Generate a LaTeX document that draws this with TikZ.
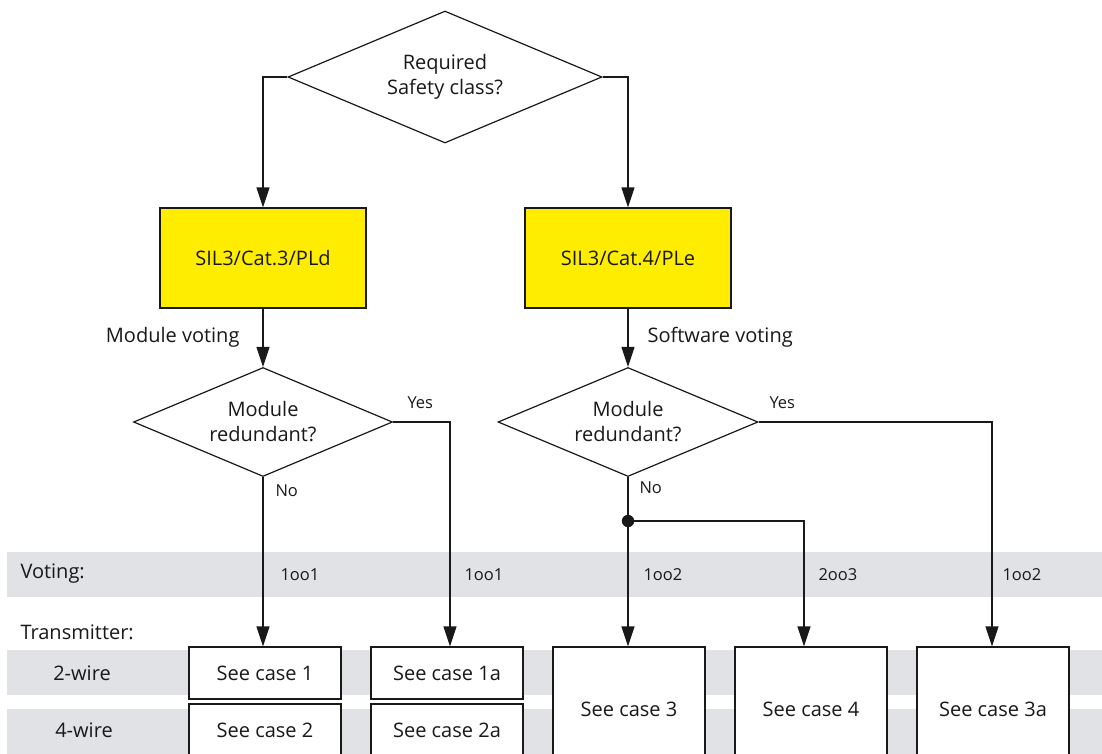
\documentclass[tikz,border=0pt]{standalone}
\usepackage{fontspec}
\setmainfont{Open Sans}
\usetikzlibrary{shapes.geometric,arrows.meta}
\definecolor{sieyellow}{RGB}{255,237,0}
\definecolor{bandgray}{RGB}{225,226,229}
\definecolor{txt}{RGB}{25,25,25}
\tikzset{
  big/.style={font=\fontsize{20}{25}\selectfont, text=txt},
  small/.style={font=\fontsize{16.5}{19}\selectfont, text=txt},
  dec/.style={shape=diamond, draw=txt, line width=1.2pt, fill=white, inner sep=0pt, aspect=2.38, align=center, big},
  classbox/.style={draw=txt, line width=1.2pt, fill=sieyellow, minimum width=206pt, minimum height=100pt, inner sep=0pt, big},
  casebox/.style={draw=txt, line width=1.2pt, fill=white, minimum width=152pt, inner sep=0pt, big},
  arr/.style={draw=txt, line width=1.2pt, -{Triangle[width=13pt,length=20pt]}},
  band/.style={fill=bandgray, draw=none}
}
\begin{document}
\begin{tikzpicture}[x=1pt,y=-1pt]
\useasboundingbox (0,0) rectangle (1102,753);
% bands
\fill[band] (7,552) rectangle (1102,597);
\fill[band] (7,650) rectangle (1102,695);
\fill[band] (7,709) rectangle (1102,760);
\node[big, anchor=west] (lvot) at (17,574) {Voting:};
\node[big, anchor=west] (ltra) at (17,632) {Transmitter:};
\node[big] (l2w) at (82,673) {2-wire};
\node[big] (l4w) at (84,730) {4-wire};
% decisions
\node[dec, minimum width=314pt, minimum height=132pt] (top) at (445,77) {Required\\Safety class?};
\node[classbox] (b1) at (263,258) {SIL3/Cat.3/PLd};
\node[classbox] (b2) at (628,258) {SIL3/Cat.4/PLe};
\node[dec, minimum width=259pt, minimum height=109pt] (d1) at (263,422) {Module\\redundant?};
\node[dec, minimum width=260pt, minimum height=109pt] (d2) at (628,422) {Module\\redundant?};
% case boxes
\node[casebox, minimum height=52pt] (c1) at (265,673) {See case 1};
\node[casebox, minimum height=52pt] (c2) at (265,730) {See case 2};
\node[casebox, minimum height=52pt] (c1a) at (447,673) {See case 1a};
\node[casebox, minimum height=52pt] (c2a) at (447,730) {See case 2a};
\node[casebox, minimum height=124pt] (c3) at (629,709) {See case 3};
\node[casebox, minimum height=124pt] (c4) at (811,709) {See case 4};
\node[casebox, minimum height=124pt] (c3a) at (993,709) {See case 3a};
% connectors
\draw[arr] (top.west) -| (b1.north);
\draw[arr] (top.east) -| (b2.north);
\draw[arr] (b1.south) -- (d1.north);
\draw[arr] (b2.south) -- (d2.north);
\draw[arr] (d1.south) -- ([xshift=-2pt]c1.north);
\draw[arr] (d1.east) -| ([xshift=3pt]c1a.north);
\coordinate (jn) at (628,521);
\draw[arr] (d2.south) -- ([xshift=-1pt]c3.north);
\draw[arr] (jn) -| ([xshift=-7pt]c4.north);
\draw[arr] (d2.east) -| ([xshift=-1pt]c3a.north);
\fill[txt] (jn) circle (6.2pt);
% labels
\node[big, anchor=east] (mv) at (243,337) {Module voting};
\node[big, anchor=west] (sv) at (644,337) {Software voting};
\node[small, anchor=west] (y1) at (404,403) {Yes};
\node[small, anchor=west] (y2) at (766,403) {Yes};
\node[small, anchor=west] (n1) at (272,491) {No};
\node[small, anchor=west] (n2) at (636,488) {No};
\node[small, anchor=west] (v1) at (277,575) {1oo1};
\node[small, anchor=west] (v2) at (461,575) {1oo1};
\node[small, anchor=west] (v3) at (640,575) {1oo2};
\node[small, anchor=west] (v4) at (815,575) {2oo3};
\node[small, anchor=west] (v5) at (999,575) {1oo2};
\end{tikzpicture}
\end{document}
